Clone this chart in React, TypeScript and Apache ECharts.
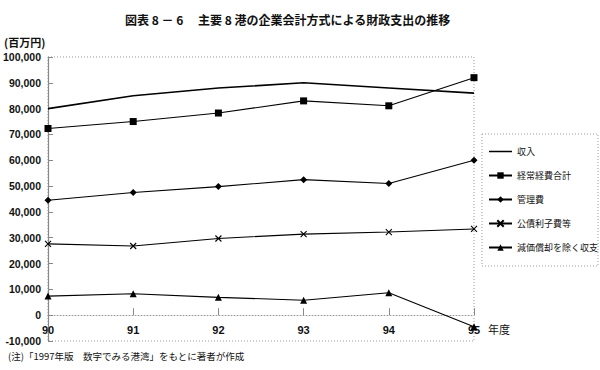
import React, { useEffect, useRef } from "react";
import * as echarts from "echarts";

const categories = ["90", "91", "92", "93", "94", "95"];
const seriesNames = ["収入", "経常経費合計", "管理費", "公債利子費等", "減価償却を除く収支"];
const revenue = [80000, 85000, 88000, 90000, 88000, 86000];
const operatingCost = [72300, 75000, 78300, 83000, 81100, 92000];
const management = [44500, 47500, 49800, 52500, 51000, 60000];
const bondInterest = [27600, 26800, 29700, 31400, 32200, 33400];
const balance = [7400, 8300, 6900, 5800, 8700, -4500];
const yMin = -10000;
const yMax = 100000;
const yInterval = 10000;

const JP = "'Noto Sans CJK JP', sans-serif";
const NUM = "'Liberation Sans', Arial, sans-serif";

export default function App() {
  const ref = useRef<HTMLDivElement>(null);
  useEffect(() => {
    if (!ref.current) return;
    const chart = echarts.init(ref.current, null, { renderer: "svg" });
    const gridL = 48, gridT = 57, gridR = 474, gridB = 341;
    const gridH = gridB - gridT;
    const zeroOffset = -(gridH * (0 - yMin)) / (yMax - yMin);
    const crossPath = "path://M0,0L10,10M10,0L0,10";
    const plainLineIcon = "path://M0,3.3H23V4.7H0Z M0,0H0.01V0.01H0Z M0,8H0.01V8.01H0Z";
    const mk = (name: string, data: number[], symbol: string, size: number, width: number, extra: any = {}) => ({
      name,
      type: "line",
      data,
      symbol,
      symbolSize: size,
      showSymbol: symbol !== "none",
      lineStyle: { color: "#000", width },
      itemStyle: { color: "#000" },
      ...extra,
    });
    chart.setOption({
      animation: false,
      backgroundColor: "#fff",
      title: {
        text: "図表 8 － 6　 主要 8 港の企業会計方式による財政支出の推移",
        left: 120,
        top: 8,
        textStyle: { fontFamily: JP, fontSize: 12, fontWeight: "bold", color: "#111" },
      },
      grid: { left: gridL, top: gridT, width: gridR - gridL, height: gridH, containLabel: false },
      xAxis: {
        type: "category",
        data: categories,
        boundaryGap: false,
        position: "bottom",
        offset: zeroOffset,
        axisLine: { onZero: false, lineStyle: { color: "#999", type: [1, 2], width: 1 } },
        axisTick: { inside: true, length: 7, lineStyle: { color: "#888" } },
        axisLabel: { margin: 9, fontFamily: NUM, fontSize: 11, fontWeight: "bold", color: "#111" },
        splitLine: { show: false },
      },
      yAxis: {
        type: "value",
        min: yMin,
        max: yMax,
        interval: yInterval,
        axisLine: { show: true, onZero: false, lineStyle: { color: "#888", width: 1.2 } },
        axisTick: { show: true, inside: true, length: 5, lineStyle: { color: "#888" } },
        axisLabel: {
          margin: 7,
          fontFamily: NUM,
          fontSize: 10.5,
          fontWeight: "bold",
          color: "#111",
          formatter: (v: number) => v.toLocaleString("en-US"),
        },
        splitLine: { show: false },
      },
      legend: {
        orient: "vertical",
        left: 483,
        top: 142,
        itemGap: 15,
        itemWidth: 23,
        itemHeight: 8,
        textStyle: { fontFamily: JP, fontSize: 9, color: "#111" },
        data: [
          { name: seriesNames[0], icon: plainLineIcon },
          seriesNames[1],
          seriesNames[2],
          seriesNames[3],
          seriesNames[4],
        ],
      },
      graphic: [
        {
          type: "rect",
          shape: { x: gridL, y: gridT, width: gridR - gridL, height: gridH },
          style: { fill: "none", stroke: "#999", lineWidth: 1, lineDash: [1, 2] },
          silent: true,
          z: -1,
        },
        {
          type: "rect",
          shape: { x: 482, y: 134, width: 116, height: 132 },
          style: { fill: "none", stroke: "#999", lineWidth: 1, lineDash: [1, 2] },
          silent: true,
        },
        {
          type: "text",
          x: 4,
          y: 36,
          style: { text: "(百万円)", font: `bold 11px ${JP}`, fill: "#111" },
        },
        {
          type: "text",
          x: 488,
          y: 323,
          style: { text: "年度", font: `11px ${JP}`, fill: "#111" },
        },
        {
          type: "text",
          x: 8,
          y: 351,
          style: { text: "(注)「1997年版　数字でみる港湾」をもとに著者が作成", font: `9.5px ${JP}`, fill: "#111" },
        },
      ],
      series: [
        mk(seriesNames[0], revenue, "none", 0, 1.6),
        mk(seriesNames[1], operatingCost, "rect", 7, 1.1),
        mk(seriesNames[2], management, "diamond", 7, 1.1),
        mk(seriesNames[3], bondInterest, crossPath, 6, 1.1, {
          itemStyle: { color: "transparent", borderColor: "#000", borderWidth: 1.1 },
        }),
        mk(seriesNames[4], balance, "triangle", 7, 1.1),
      ],
    });
    return () => chart.dispose();
  }, []);
  return <div ref={ref} style={{ width: 600, height: 370, position: "absolute", left: 0, top: 0 }} />;
}
